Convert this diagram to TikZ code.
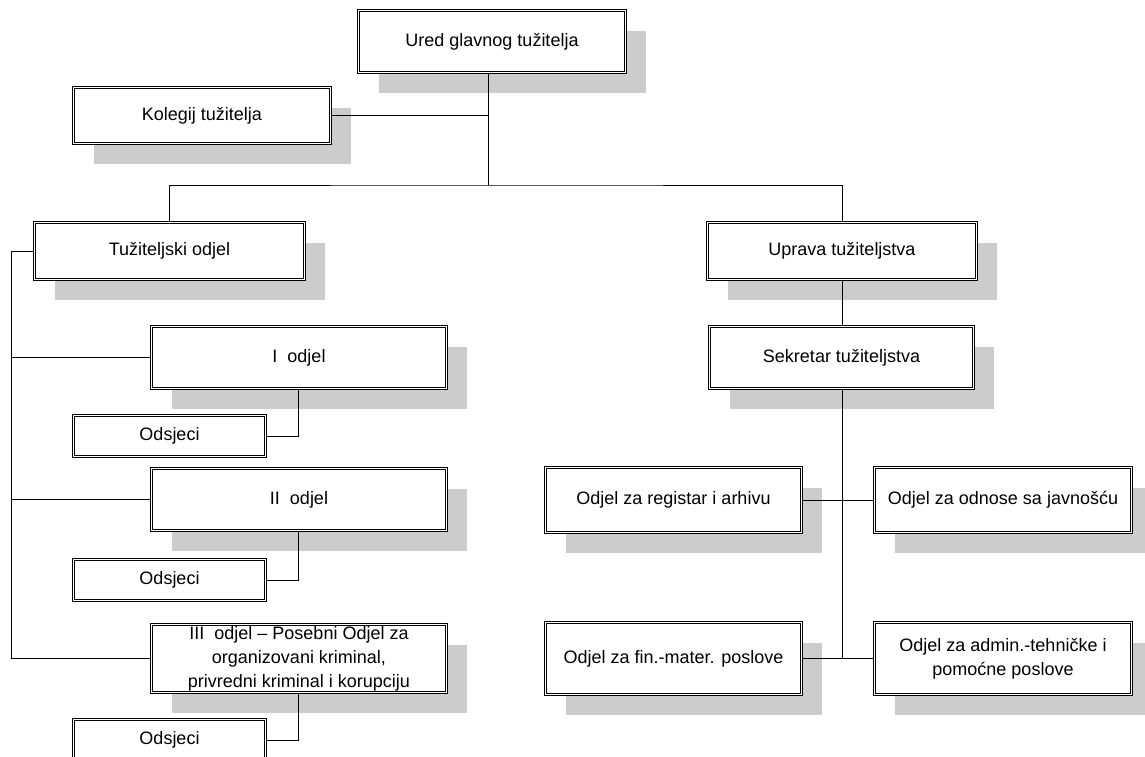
\documentclass[tikz,border=0pt]{standalone}
\usepackage{fontspec}
\setmainfont{Liberation Sans}
\usetikzlibrary{shadows}
\definecolor{shadowgray}{HTML}{CCCCCC}
\tikzset{
  box/.style={draw=black, line width=0.9pt, double=white, double distance=1.2pt,
    fill=white, inner sep=0pt, outer sep=1.5pt, align=center,
    font=\fontsize{18}{24}\selectfont},
  shbox/.style={box, drop shadow={shadow xshift=20pt, shadow yshift=-20pt,
    fill=shadowgray, opacity=1}},
  conn/.style={draw=black, line width=0.9pt},
}
\begin{document}
\begin{tikzpicture}[x=1pt, y=-1pt]
\useasboundingbox (0,0) rectangle (1145,756);
% nodes
\node[shbox, minimum width=267pt, minimum height=62pt] (ured) at (492,41.5) {Ured glavnog tužitelja};
\node[shbox, minimum width=257pt, minimum height=56pt] (kol) at (202,115.5) {Kolegij tužitelja};
\node[shbox, minimum width=270pt, minimum height=57pt] (tuz) at (169.5,251) {Tužiteljski odjel};
\node[shbox, minimum width=269pt, minimum height=57pt] (upr) at (842,251) {Uprava tužiteljstva};
\node[shbox, minimum width=264pt, minimum height=62pt] (sek) at (841.5,357.5) {Sekretar tužiteljstva};
\node[shbox, minimum width=295pt, minimum height=62pt] (od1) at (299,357.5) {I~~odjel};
\node[box, minimum width=192pt, minimum height=41pt] (ods1) at (169.5,436) {Odsjeci};
\node[shbox, minimum width=295pt, minimum height=62pt] (od2) at (299,499.5) {II~~odjel};
\node[box, minimum width=192pt, minimum height=41pt] (ods2) at (169.5,580) {Odsjeci};
\node[shbox, minimum width=295pt, minimum height=68pt] (od3) at (299,658.5) {III~~odjel – Posebni Odjel za\\organizovani kriminal,\\privredni kriminal i korupciju};
\node[box, minimum width=192pt, minimum height=41pt] (ods3) at (169.5,740) {Odsjeci};
\node[shbox, minimum width=256pt, minimum height=65pt] (reg) at (673.5,500) {Odjel za registar i arhivu};
\node[shbox, minimum width=257pt, minimum height=65pt] (odn) at (1003,500) {Odjel za odnose sa javnošću};
\node[shbox, minimum width=256pt, minimum height=72pt] (fin) at (673.5,658.5) {Odjel za fin.-mater. poslove};
\node[shbox, minimum width=257pt, minimum height=72pt] (adm) at (1003,658.5) {Odjel za admin.-tehničke i\\pomoćne poslove};
% helper coordinates
\coordinate (j1) at (488,185);
\coordinate (bus) at (11,0);
\coordinate (sx) at (298,0);
% connectors
\draw[conn] (ured.south -| j1) -- (j1);
\draw[conn] (kol.east) -- (kol.east -| j1);
\draw[conn] (tuz.north) |- (j1) -| (upr.north);
\draw[conn] (upr.south) -- (upr.south |- sek.north);
\draw[conn] (sek.south -| upr.south) -- (upr.south |- fin.east);
\draw[conn] (reg.east) -- (odn.west);
\draw[conn] (fin.east) -- (adm.west);
\draw[conn] (tuz.west) -- (tuz.west -| bus) -- (od3.west -| bus) -- (od3.west);
\draw[conn] (od1.west -| bus) -- (od1.west);
\draw[conn] (od2.west -| bus) -- (od2.west);
\draw[conn] (od1.south -| sx) |- (ods1.east);
\draw[conn] (od2.south -| sx) |- (ods2.east);
\draw[conn] (od3.south -| sx) |- (ods3.east);
\end{tikzpicture}
\end{document}
